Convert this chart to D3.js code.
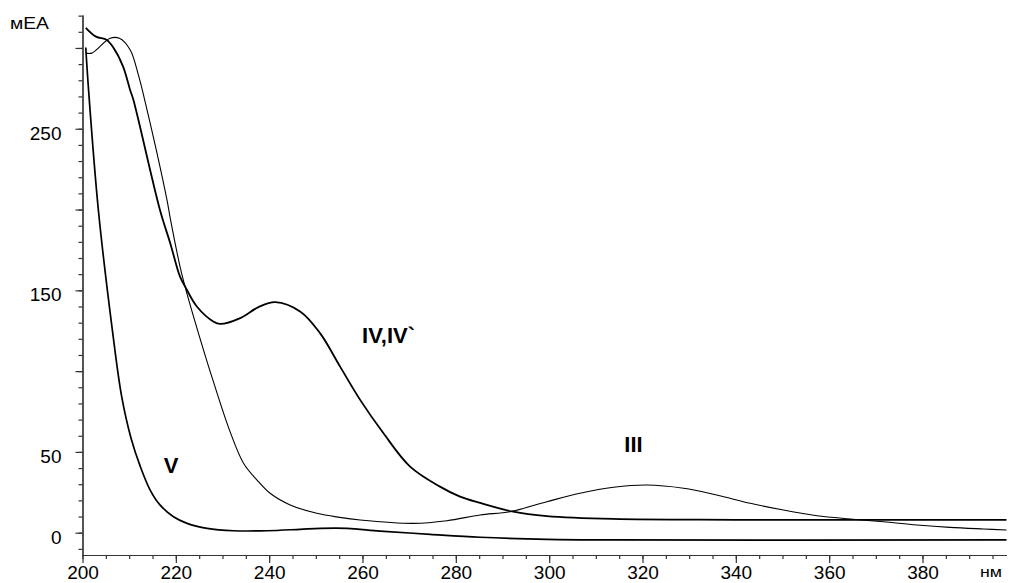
<!DOCTYPE html>
<html>
<head>
<meta charset="utf-8">
<script src="https://cdn.jsdelivr.net/npm/d3@7"></script>
<style>
  html, body { margin: 0; padding: 0; background: #fff; }
  svg { display: block; font-family: "Liberation Sans", Arial, sans-serif; }
</style>
</head>
<body>
<svg id="chart" width="1009" height="583"></svg>
<script>
// ---- Data ----
// Curve IV,IV` (thick)
const ivNm  = [200.7, 202.9, 205.2, 206.6, 208.7, 210.2, 210.9, 216.6, 218.8, 220.9, 222, 224.5, 228.1, 229.5, 233.8, 237.7, 241.3, 246.7, 250.9, 255.2, 259.5, 264.5, 270.2, 276.6, 280.9, 285.2, 292.3, 299.5, 313.7, 340, 398];
const ivVal = [312.5, 307, 305, 300.3, 288.5, 274, 267.9, 199.7, 179.2, 158.5, 152.3, 140, 130.6, 129.2, 132.8, 139.6, 142.7, 136.8, 123.5, 102.8, 82.2, 61.5, 40.9, 28.5, 22.3, 18.4, 13, 10.3, 8.5, 8, 7.9];
// Curve III (thin)
const iiiNm  = [200.7, 202, 205.9, 207.9, 210.2, 212, 213.4, 218.1, 218.8, 220.9, 222, 225, 228.1, 231.5, 234.5, 237.4, 240.2, 244.5, 250.2, 255.1, 259.5, 270.9, 278.1, 285.2, 291.6, 299.5, 306.6, 313.8, 320.9, 328.8, 335.9, 343.1, 350.2, 357.4, 364.5, 371.6, 378.8, 385.9, 393.1, 398];
const iiiVal = [296.8, 296.8, 306, 306, 298.9, 283, 267, 206, 194.7, 164.7, 152, 122, 93, 63.5, 43, 32.6, 24.4, 17.2, 12, 9.5, 7.9, 5.8, 7.4, 11, 13, 19.2, 24.4, 28.1, 29.5, 27.5, 23.3, 18.2, 14, 10.5, 8.5, 6.8, 4.8, 3.3, 2.3, 1.7];
// Curve V
const vNm  = [200.7, 201.3, 203.4, 206.4, 208.4, 210.4, 212.4, 214.5, 216.6, 219.5, 222.4, 226.7, 232.4, 239.5, 246.6, 251, 256.7, 263.8, 274.5, 285.2, 299.5, 313.8, 398];
const vVal = [300.3, 274, 199.7, 125.4, 84.2, 58.5, 40.9, 26.4, 17.2, 9.9, 5.8, 2.7, 1.2, 1.2, 2.1, 2.7, 2.7, 1, -1, -2.8, -4.1, -4.5, -4.5];

// Axis ticks
const xMajorTicks = [200, 220, 240, 260, 280, 300, 320, 340, 360, 380];
const xMinorTicks = d3.range(200, 396, 5);
const yMajorTicks = [0, 50, 100, 150, 200, 250, 300];
const yMinorTicks = d3.range(-10, 321, 10);
const yLabelled   = [0, 50, 150, 250];

// Curve labels
const curveLabels = ["V", "IV,IV`", "III"];
const curveLabelPos = [[217.4, 37.2], [259.9, 117.3], [316.1, 50.2]]; // [nm, value] of label baseline-left

// ---- Drawing ----
const svg = d3.select("#chart");
const x = d3.scaleLinear().domain([200, 398]).range([82.5, 1006.5]);
const y = d3.scaleLinear().domain([-13.8, 320.4]).range([555, 15]);

const axisColor = "#333";

// Y axis: minor + major ticks
const gyMinor = svg.append("g").attr("transform", "translate(82.5,0)")
  .call(d3.axisLeft(y).tickValues(yMinorTicks).tickSize(4).tickSizeOuter(0).tickFormat(""));
const gyMajor = svg.append("g").attr("transform", "translate(82.5,0)")
  .call(d3.axisLeft(y).tickValues(yMajorTicks).tickSize(7).tickSizeOuter(0)
    .tickFormat(d => yLabelled.includes(d) ? d : ""));
[gyMinor, gyMajor].forEach(g => {
  g.selectAll("path.domain").attr("stroke", axisColor).attr("stroke-width", 1.2);
  g.selectAll(".tick line").attr("stroke", axisColor).attr("stroke-width", 1.2);
});
gyMajor.selectAll(".tick text")
  .attr("x", -21).attr("dy", "0.55em")
  .attr("font-size", 19).attr("fill", "#000")
  .attr("font-family", "Liberation Sans, Arial, sans-serif");

// X axis
const gxMinor = svg.append("g").attr("transform", "translate(0,555)")
  .call(d3.axisBottom(x).tickValues(xMinorTicks).tickSize(4).tickSizeOuter(0).tickFormat(""));
const gxMajor = svg.append("g").attr("transform", "translate(0,555)")
  .call(d3.axisBottom(x).tickValues(xMajorTicks).tickSize(8).tickSizeOuter(0).tickFormat(d => d));
[gxMinor, gxMajor].forEach(g => {
  g.selectAll("path.domain").attr("stroke", axisColor).attr("stroke-width", 1.2);
  g.selectAll(".tick line").attr("stroke", axisColor).attr("stroke-width", 1.2);
});
gxMajor.selectAll(".tick text")
  .attr("y", 11).attr("dy", "0.71em")
  .attr("font-size", 19).attr("fill", "#000")
  .attr("font-family", "Liberation Sans, Arial, sans-serif");

// Axis titles
svg.append("text").attr("x", 10).attr("y", 28.5).attr("font-size", 17)
  .attr("textLength", 39).attr("lengthAdjust", "spacingAndGlyphs").text("мЕА");
svg.append("text").attr("x", 980).attr("y", 577).attr("font-size", 14)
  .attr("textLength", 22).attr("lengthAdjust", "spacingAndGlyphs").text("нм");

// Lines
const line = d3.line().x(d => x(d[0])).y(d => y(d[1])).curve(d3.curveCatmullRom.alpha(0.5));
const zip = (a, b) => a.map((v, i) => [v, b[i]]);

svg.append("path").datum(zip(iiiNm, iiiVal)).attr("d", line)
  .attr("fill", "none").attr("stroke", "#000").attr("stroke-width", 1.1);
svg.append("path").datum(zip(vNm, vVal)).attr("d", line)
  .attr("fill", "none").attr("stroke", "#000").attr("stroke-width", 1.7);
svg.append("path").datum(zip(ivNm, ivVal)).attr("d", line)
  .attr("fill", "none").attr("stroke", "#000").attr("stroke-width", 1.8);

// Curve labels
curveLabels.forEach((t, i) => {
  svg.append("text")
    .attr("x", x(curveLabelPos[i][0])).attr("y", y(curveLabelPos[i][1]))
    .attr("font-size", 22).attr("font-weight", "bold").attr("fill", "#000")
    .text(t);
});
</script>
</body>
</html>
